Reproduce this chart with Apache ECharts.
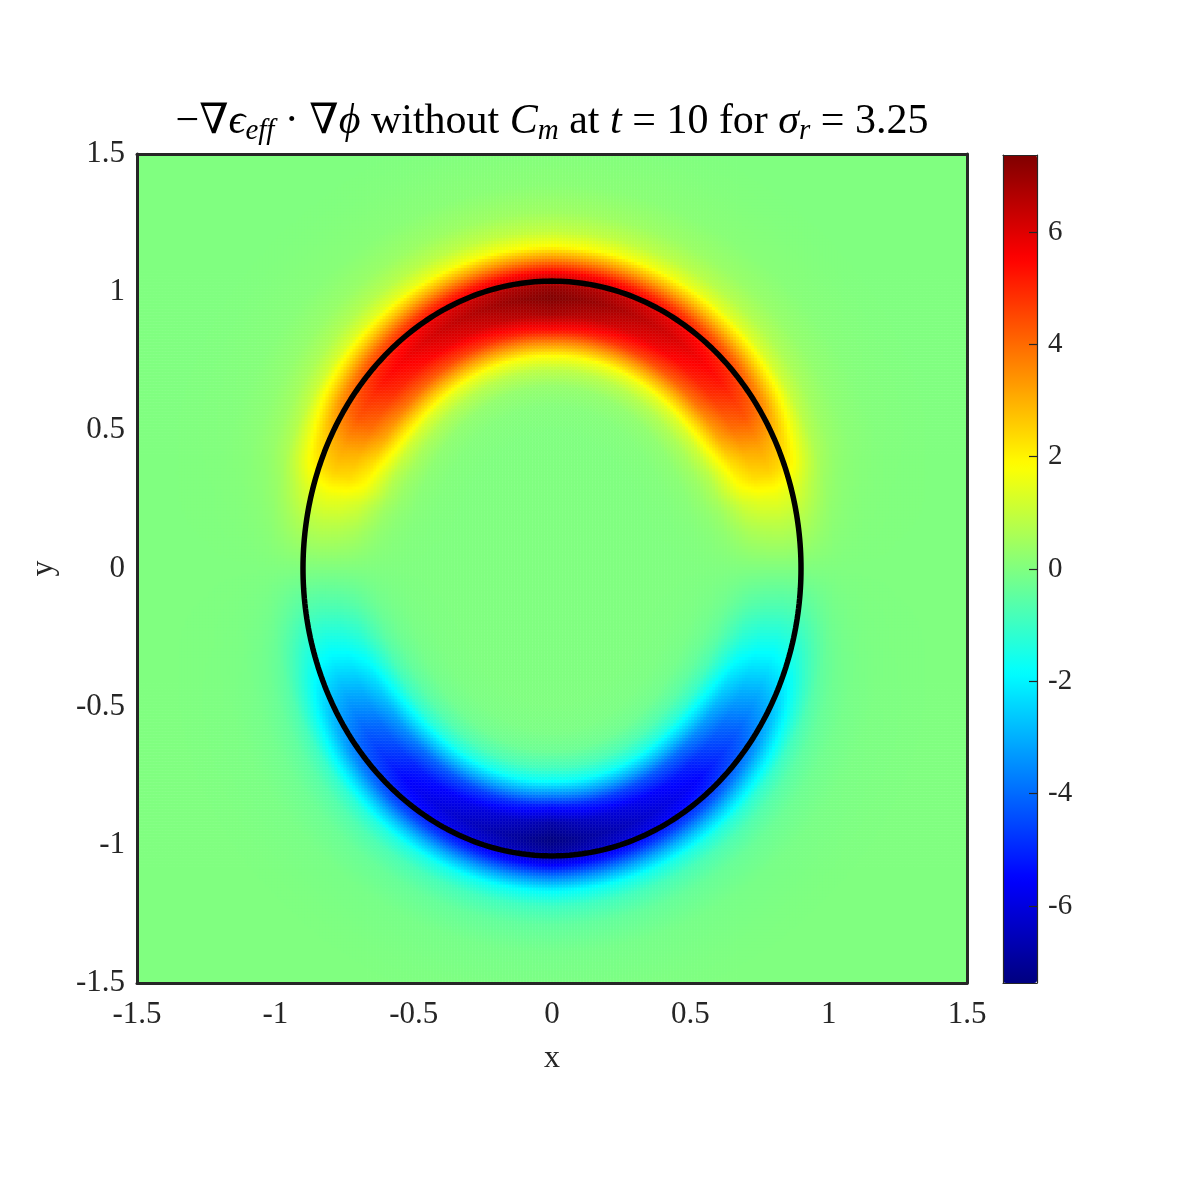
<!DOCTYPE html>
<html>
<head>
<meta charset="utf-8">
<script src="https://cdn.jsdelivr.net/npm/echarts@6/dist/echarts.min.js"></script>
<style>
html, body { margin: 0; padding: 0; background: #fff; }
#chart { width: 1181px; height: 1181px; }
</style>
</head>
<body>
<div id="chart"></div>
<script>
// membrane outline, semi-axes
const ellipseA = 0.9;
const ellipseB = 1.04;

// strength of the band along the membrane (elliptic angle in degrees, peak value)
const bandAngle = [-90, -70, -51, -38, -28, -19, -9, 0, 10, 16, 21, 27, 34, 44, 60, 78, 90];
const bandPeak = [-7.37, -6.45, -5.5, -4.3, -3.1, -1.9, -0.8, 0, 0.9, 1.6, 2.5, 3.2, 4.3, 5.3, 6.2, 7.0, 7.37];

// shape of the band across the membrane (distance, outward positive -> fraction of peak)
const profileOffset = [-0.55, -0.45, -0.38, -0.32, -0.27, -0.22, -0.18, -0.12, -0.06, -0.02, 0.03, 0.08, 0.126, 0.18, 0.25, 0.35, 0.5, 0.6];
const profileShape = [0, 0.01, 0.04, 0.12, 0.25, 0.5, 0.72, 0.92, 1.0, 0.95, 0.77, 0.48, 0.25, 0.13, 0.06, 0.02, 0.005, 0];

const colorTicks = [-6, -4, -2, 0, 2, 4, 6];
const colorMin = -7.37;
const colorMax = 7.37;
const cells = 277;

const jet = ['#000080', '#0000ff', '#0080ff', '#00ffff', '#80ff80', '#ffff00', '#ff8000', '#ff0000', '#800000'];
const serif = "'Liberation Serif', 'DejaVu Serif', serif";
const ink = '#262626';

function lookup(xs, ys, v) {
  if (v <= xs[0]) return ys[0];
  if (v >= xs[xs.length - 1]) return ys[ys.length - 1];
  for (let i = 1; i < xs.length; i++) {
    if (v <= xs[i]) {
      const t = (v - xs[i - 1]) / (xs[i] - xs[i - 1]);
      return ys[i - 1] + t * (ys[i] - ys[i - 1]);
    }
  }
  return 0;
}

const cats = [];
for (let i = 0; i < cells; i++) cats.push(i);

const field = [];
for (let j = 0; j < cells; j++) {
  const y = -1.5 + (j + 0.5) * 3 / cells;
  for (let i = 0; i < cells; i++) {
    const x = -1.5 + (i + 0.5) * 3 / cells;
    const u = x / ellipseA, w = y / ellipseB;
    const r = Math.max(Math.sqrt(u * u + w * w), 1e-6);
    const g = Math.max(Math.sqrt(x * x / Math.pow(ellipseA, 4) + y * y / Math.pow(ellipseB, 4)), 1e-6) / r;
    const dist = (r - 1) / g;
    const ang = Math.atan2(w, Math.abs(u)) * 180 / Math.PI;
    field.push([i, j, lookup(bandAngle, bandPeak, ang) * lookup(profileOffset, profileShape, dist)]);
  }
}

const outline = [];
for (let k = 0; k <= 360; k++) {
  const t = k * Math.PI / 180;
  outline.push([ellipseA * Math.cos(t), ellipseB * Math.sin(t)]);
}

const chart = echarts.init(document.getElementById('chart'), null, { renderer: 'canvas' });

const boxLine = { show: true, onZero: false, lineStyle: { color: ink, width: 3 } };
const barLine = { show: true, onZero: false, lineStyle: { color: ink, width: 1.2 } };
const tickFont = { fontFamily: serif, fontSize: 31, color: ink };

chart.setOption({
  animation: false,
  grid: [
    { left: 137, top: 154, width: 830, height: 829 },
    { left: 137, top: 154, width: 830, height: 829 },
    { left: 1003, top: 155, width: 34, height: 828 }
  ],
  xAxis: [
    { type: 'category', gridIndex: 0, data: cats, show: false },
    {
      type: 'value', gridIndex: 1, position: 'bottom', min: -1.5, max: 1.5, interval: 0.5, z: 10,
      axisLine: boxLine, axisTick: { show: false }, splitLine: { show: false },
      axisLabel: Object.assign({ margin: 16 }, tickFont),
      name: 'x', nameLocation: 'middle', nameGap: 60,
      nameTextStyle: { fontFamily: serif, fontSize: 32, color: ink }
    },
    {
      type: 'value', gridIndex: 1, position: 'top', min: -1.5, max: 1.5, interval: 0.5, z: 10,
      axisLine: boxLine, axisTick: { show: false }, splitLine: { show: false }, axisLabel: { show: false },
      name: '{n|\u2212\u2207}{i|\u03f5}{s|eff}{n| \u00b7 \u2207}{i|\u03d5}{n| without }{i|C}{s|m}{n| at }{i|t}{n| = 10 for }{i|\u03c3}{s|r}{n| = 3.25}',
      nameLocation: 'middle', nameGap: 8,
      nameTextStyle: {
        rich: {
          n: { fontFamily: serif, fontSize: 42, color: '#000' },
          i: { fontFamily: serif, fontSize: 42, fontStyle: 'italic', color: '#000' },
          s: { fontFamily: serif, fontSize: 29, fontStyle: 'italic', color: '#000', padding: [19, 0, 0, 0] }
        }
      }
    },
    { type: 'value', gridIndex: 2, position: 'bottom', min: 0, max: 1, z: 10, axisLine: barLine, axisTick: { show: false }, axisLabel: { show: false }, splitLine: { show: false } },
    { type: 'value', gridIndex: 2, position: 'top', min: 0, max: 1, z: 10, axisLine: barLine, axisTick: { show: false }, axisLabel: { show: false }, splitLine: { show: false } }
  ],
  yAxis: [
    { type: 'category', gridIndex: 0, data: cats, show: false },
    {
      type: 'value', gridIndex: 1, position: 'left', min: -1.5, max: 1.5, interval: 0.5, z: 10,
      axisLine: boxLine, axisTick: { show: false }, splitLine: { show: false },
      axisLabel: Object.assign({ margin: 12 }, tickFont),
      name: 'y', nameLocation: 'middle', nameGap: 77,
      nameTextStyle: { fontFamily: serif, fontSize: 32, color: ink }
    },
    {
      type: 'value', gridIndex: 1, position: 'right', min: -1.5, max: 1.5, interval: 0.5, z: 10,
      axisLine: boxLine, axisTick: { show: false }, splitLine: { show: false }, axisLabel: { show: false }
    },
    { type: 'value', gridIndex: 2, position: 'left', min: colorMin, max: colorMax, z: 10, axisLine: barLine, axisTick: { show: false }, axisLabel: { show: false }, splitLine: { show: false } },
    {
      type: 'value', gridIndex: 2, position: 'right', min: colorMin, max: colorMax, z: 10,
      axisLine: barLine, splitLine: { show: false },
      axisTick: { show: true, inside: true, length: 8, customValues: colorTicks, lineStyle: { color: ink, width: 1.2 } },
      axisLabel: { customValues: colorTicks, margin: 11, fontFamily: serif, fontSize: 29, color: ink }
    }
  ],
  visualMap: {
    type: 'continuous', seriesIndex: 0, min: colorMin, max: colorMax,
    calculable: false, orient: 'vertical', left: 1003, top: 155, padding: 0,
    itemWidth: 34, itemHeight: 828, text: null, showLabel: false,
    inRange: { color: jet }
  },
  series: [
    {
      type: 'heatmap', xAxisIndex: 0, yAxisIndex: 0, data: field,
      progressive: 0, itemStyle: { borderWidth: 0 }, emphasis: { disabled: true }, silent: true
    },
    {
      type: 'line', xAxisIndex: 1, yAxisIndex: 1, data: outline, z: 5,
      showSymbol: false, symbol: 'none', silent: true,
      lineStyle: { color: '#000', width: 5.5 }
    }
  ]
});
</script>
</body>
</html>
